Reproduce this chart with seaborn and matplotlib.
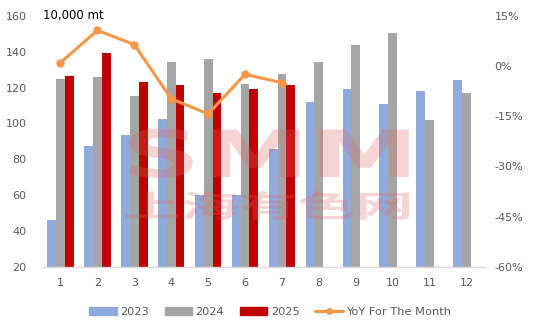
import matplotlib
matplotlib.use("Agg")
import matplotlib.pyplot as plt
import seaborn as sns
import pandas as pd
import numpy as np
from matplotlib.lines import Line2D
from matplotlib.patches import Patch
from matplotlib.patheffects import AbstractPathEffect
from matplotlib.transforms import Affine2D

months = ["1", "2", "3", "4", "5", "6", "7", "8", "9", "10", "11", "12"]
v2023 = [46, 87.6, 93.7, 102.6, 60, 60, 86, 112.1, 119.3, 110.9, 118.2, 124.3]
v2024 = [124.8, 125.8, 115.2, 134.3, 135.9, 122.1, 127.6, 134.3, 143.7, 150.4, 102.1, 117.1]
v2025 = [126.5, 139.3, 123.2, 121.5, 117.1, 119.3, 121.5]
yoy = [1.0, 10.6, 6.4, -9.8, -14.3, -2.5, -5.0]
left_ticks = [20, 40, 60, 80, 100, 120, 140, 160]
right_ticks = [-60, -45, -30, -15, 0, 15]

colors = {"2023": "#8FAADC", "2024": "#A5A5A5", "2025": "#C00000"}
line_color = "#F79646"
tick_color = "#595959"

sns.set_theme(style="white")
plt.rcParams["font.family"] = ["DejaVu Sans", "Noto Sans CJK SC"]


class Stretch(AbstractPathEffect):
    def __init__(self, sx, cx):
        super().__init__()
        self.sx = sx
        self.cx = cx

    def draw_path(self, renderer, gc, tpath, affine, rgbFace=None):
        t = affine + Affine2D().translate(-self.cx, 0).scale(self.sx, 1).translate(self.cx, 0)
        renderer.draw_path(gc, tpath, t, rgbFace)


rows = []
for m, v in zip(months, v2023):
    rows.append({"month": m, "year": "2023", "value": v})
for m, v in zip(months, v2024):
    rows.append({"month": m, "year": "2024", "value": v})
for m, v in zip(months[:len(v2025)], v2025):
    rows.append({"month": m, "year": "2025", "value": v})
df = pd.DataFrame(rows)

fig = plt.figure(figsize=(5.35, 3.33), dpi=100)
ax = fig.add_axes([42/535, 1-267/333, (485-42)/535, (267-15.7)/333])

sns.barplot(data=df, x="month", y="value", hue="year", order=months,
            hue_order=["2023", "2024", "2025"], palette=colors, width=0.72,
            saturation=1, ax=ax, legend=False, zorder=2, linewidth=0,
            edgecolor="none")
ax.set_ylim(20, 160)
ax.set_yticks(left_ticks)
ax.set_xlim(-0.5, 11.5)
ax.set_xlabel("")
ax.set_ylabel("")
for s in ["top", "right", "left"]:
    ax.spines[s].set_visible(False)
ax.spines["bottom"].set_color("#D9D9D9")
ax.spines["bottom"].set_linewidth(1)
ax.tick_params(axis="both", colors=tick_color, labelsize=8, length=0, pad=8)
ax.tick_params(axis="y", pad=11)

ax2 = ax.twinx()
ldf = pd.DataFrame({"x": np.arange(len(yoy)), "yoy": yoy})
sns.lineplot(data=ldf, x="x", y="yoy", ax=ax2, color=line_color, linewidth=2.2,
             marker="o", markersize=6, markeredgewidth=0, zorder=3)
ax2.set_ylim(-60, 15)
ax2.set_yticks(right_ticks)
ax2.set_yticklabels([f"{t}%" for t in right_ticks])
ax2.set_xlim(-0.5, 11.5)
ax2.set_xlabel("")
ax2.set_ylabel("")
for s in ["top", "right", "left", "bottom"]:
    ax2.spines[s].set_visible(False)
ax2.tick_params(axis="y", colors=tick_color, labelsize=8, length=0, pad=7)

fig.text(43/535, 1-15/333, "10,000 mt", fontsize=8.5, color="black",
         ha="left", va="center")

# watermark
wm_color = "#E06666"
fig.text(270/535, 1-159/333, "SMM", fontsize=47, fontweight="bold",
         color=wm_color, alpha=0.28, ha="center", va="center", zorder=10,
         path_effects=[Stretch(1.68, 270)])
fig.text(268/535, 1-208/333, "上海有色网", fontsize=22, fontweight="bold",
         family=["Noto Sans CJK SC"], color=wm_color, alpha=0.28,
         ha="center", va="center", zorder=10,
         path_effects=[Stretch(1.9, 268)])

handles = [Patch(color=colors["2023"], label="2023"),
           Patch(color=colors["2024"], label="2024"),
           Patch(color=colors["2025"], label="2025"),
           Line2D([0], [0], color=line_color, lw=2.2, marker="o", markersize=5,
                  markeredgewidth=0, label="YoY For The Month")]
fig.legend(handles=handles, loc="center", bbox_to_anchor=(0.505, 1-312/333),
           ncol=4, frameon=False, fontsize=8.2, labelcolor=tick_color,
           handlelength=2.4, handleheight=0.7, columnspacing=1.4, handletextpad=0.3)

fig.savefig("out.png", dpi=100)
